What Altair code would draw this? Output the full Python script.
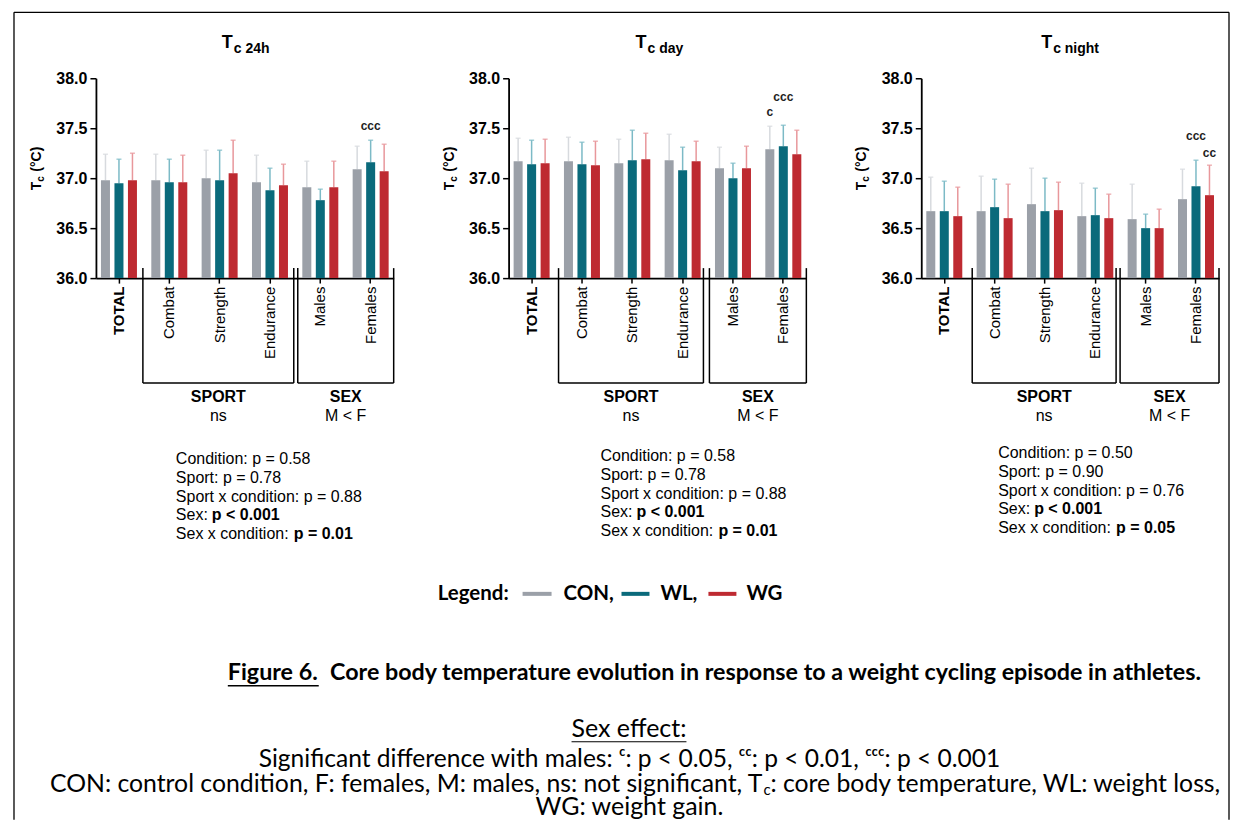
import altair as alt
import pandas as pd

# ---------------- data ----------------
CATEGORIES = ["TOTAL", "Combat", "Strength", "Endurance", "Males", "Females"]
CONDITIONS = ["CON", "WL", "WG"]
Y_TICKS = [36.0, 36.5, 37.0, 37.5, 38.0]
Y_MIN, Y_MAX = 36.0, 38.0

# Tc 24h : means and SD
H24_CON = [36.98, 36.98, 37.00, 36.96, 36.91, 37.09]
H24_WL = [36.95, 36.96, 36.98, 36.88, 36.78, 37.16]
H24_WG = [36.98, 36.96, 37.05, 36.93, 36.91, 37.07]
H24_CON_SD = [0.26, 0.26, 0.28, 0.27, 0.26, 0.23]
H24_WL_SD = [0.24, 0.23, 0.30, 0.22, 0.11, 0.22]
H24_WG_SD = [0.27, 0.27, 0.33, 0.21, 0.26, 0.27]

# Tc day
DAY_CON = [37.17, 37.17, 37.15, 37.18, 37.10, 37.29]
DAY_WL = [37.14, 37.14, 37.18, 37.08, 37.00, 37.32]
DAY_WG = [37.15, 37.13, 37.19, 37.17, 37.10, 37.24]
DAY_CON_SD = [0.23, 0.24, 0.24, 0.26, 0.21, 0.23]
DAY_WL_SD = [0.24, 0.22, 0.30, 0.23, 0.15, 0.21]
DAY_WG_SD = [0.24, 0.24, 0.26, 0.20, 0.22, 0.24]

# Tc night
NIGHT_CON = [36.67, 36.67, 36.74, 36.62, 36.59, 36.79]
NIGHT_WL = [36.67, 36.71, 36.67, 36.63, 36.50, 36.92]
NIGHT_WG = [36.62, 36.60, 36.68, 36.60, 36.50, 36.83]
NIGHT_CON_SD = [0.34, 0.35, 0.36, 0.33, 0.35, 0.30]
NIGHT_WL_SD = [0.30, 0.28, 0.33, 0.27, 0.14, 0.26]
NIGHT_WG_SD = [0.29, 0.34, 0.28, 0.24, 0.19, 0.30]

# significance annotations (category, condition, label)
ANN_24H = [("Females", "WL", "ccc")]
ANN_DAY = [("Females", "CON", "c"), ("Females", "WL", "ccc")]
ANN_NIGHT = [("Females", "WL", "ccc"), ("Females", "WG", "cc")]

STATS_24H = ["Condition: p = 0.58", "Sport: p = 0.78", "Sport x condition: p = 0.88"]
STATS_DAY = ["Condition: p = 0.58", "Sport: p = 0.78", "Sport x condition: p = 0.88"]
STATS_NIGHT = ["Condition: p = 0.50", "Sport: p = 0.90", "Sport x condition: p = 0.76"]
BOLD_24H = [("Sex:", "p < 0.001"), ("Sex x condition:", "p = 0.01")]
BOLD_DAY = [("Sex:", "p < 0.001"), ("Sex x condition:", "p = 0.01")]
BOLD_NIGHT = [("Sex:", "p < 0.001"), ("Sex x condition:", "p = 0.05")]

# ---------------- style ----------------
ARIAL = "Liberation Sans"
CALIBRI = "Lato"
BAR_COLORS = ["#9ba0a8", "#0a6a7b", "#be2a31"]
ERR_COLORS = ["#d7dade", "#7cbac6", "#e8979b"]
W, H = 298, 200
ONE = alt.Data(values=[{"k": 1}])


def hline(x1, x2, y, color="black", w=1.5):
    return alt.Chart(ONE).mark_rule(color=color, strokeWidth=w).encode(
        x=alt.value(x1), x2=alt.value(x2), y=alt.value(y))


def vline(x, y1, y2, color="black", w=1.5):
    return alt.Chart(ONE).mark_rule(color=color, strokeWidth=w).encode(
        x=alt.value(x), y=alt.value(y1), y2=alt.value(y2))


def label(x, y, s, size, weight="normal", align="left", baseline="alphabetic",
          font=ARIAL, angle=0):
    return alt.Chart(ONE).mark_text(
        text=s, fontSize=size, fontWeight=weight, align=align, baseline=baseline,
        font=font, angle=angle, color="black").encode(x=alt.value(x), y=alt.value(y))


def make_df(con, wl, wg, con_sd, wl_sd, wg_sd):
    rows = []
    for cond, means, sds in (("CON", con, con_sd), ("WL", wl, wl_sd), ("WG", wg, wg_sd)):
        for cat, m, s in zip(CATEGORIES, means, sds):
            rows.append({"category": cat, "condition": cond, "mean": m, "sd": s})
    return pd.DataFrame(rows)


X_AXIS = alt.Axis(
    title=None, labelAngle=270, labelFont=ARIAL, labelFontSize=15, labelColor="black",
    labelFontWeight={"condition": {"test": "datum.value == 'TOTAL'", "value": "bold"},
                     "value": "normal"},
    labelPadding=3, tickSize=5, tickWidth=1.5, tickColor="black",
    domainColor="black", domainWidth=1.8)
Y_AXIS = alt.Axis(
    title=None, values=Y_TICKS, format=".1f", labelFont=ARIAL, labelFontSize=16,
    labelFontWeight="bold", labelColor="black", labelPadding=3, tickSize=6,
    tickWidth=1.5, tickColor="black", domainColor="black", domainWidth=1.8, grid=False)
Y_SCALE = alt.Scale(domain=[Y_MIN, Y_MAX], nice=False, zero=False)


def enc_x():
    return alt.X("category:N", sort=CATEGORIES,
                 scale=alt.Scale(paddingInner=0.285, paddingOuter=0.1), axis=X_AXIS)


def enc_xo():
    return alt.XOffset("condition:N", sort=CONDITIONS,
                       scale=alt.Scale(paddingInner=0.333, paddingOuter=0.0))


def err_color():
    return alt.Color("condition:N", scale=alt.Scale(domain=CONDITIONS, range=ERR_COLORS),
                     legend=None)


def panel(df, sub, t_x, anns, ann_dy, stats, bold_rows, sx, sy, brk):
    base = alt.Chart(df).transform_calculate(upper="datum.mean + datum.sd")
    layers = []
    layers.append(base.mark_rule(strokeWidth=1.5).encode(
        x=enc_x(), xOffset=enc_xo(),
        y=alt.Y("mean:Q", scale=Y_SCALE, axis=Y_AXIS), y2="upper:Q", color=err_color()))
    layers.append(base.mark_tick(orient="horizontal", size=5, thickness=1.5).encode(
        x=enc_x(), xOffset=enc_xo(),
        y=alt.Y("upper:Q", scale=Y_SCALE, axis=Y_AXIS), color=err_color()))
    layers.append(base.mark_bar().encode(
        x=enc_x(), xOffset=enc_xo(),
        y=alt.Y("mean:Q", scale=Y_SCALE, axis=Y_AXIS), y2=alt.Y2Datum(Y_MIN),
        color=alt.Color("condition:N",
                        scale=alt.Scale(domain=CONDITIONS, range=BAR_COLORS), legend=None)))
    for (cat, cond, lab), dy in zip(anns, ann_dy):
        layers.append(base.transform_filter(
            (alt.datum.category == cat) & (alt.datum.condition == cond)
        ).mark_text(text=lab, dy=dy, fontSize=12, fontWeight="bold", font=ARIAL,
                    color="#222222").encode(
            x=enc_x(), xOffset=enc_xo(), y=alt.Y("upper:Q", scale=Y_SCALE, axis=Y_AXIS)))

    # panel title  T_c xxx
    layers.append(label(t_x, -30, "T", 18, "bold", "right"))
    layers.append(label(t_x + 1, -25, sub, 14, "bold", "left"))
    # y axis title  T_c (°C)
    layers.append(label(-59, 112, "T", 14, "bold", "left", "middle", angle=270))
    layers.append(label(-55, 103.5, "c", 10, "bold", "left", "middle", angle=270))
    layers.append(label(-59, 93.5, "(°C)", 14, "bold", "left", "middle", angle=270))

    # group brackets below the axis
    b0, b1, b2, b3 = brk
    top, bot = H - 10, H + 105
    for xv in (b0, b1, b2, b3):
        layers.append(vline(xv, top, bot))
    layers.append(hline(b0, b1, bot))
    layers.append(hline(b2, b3, bot))
    layers.append(label((b0 + b1) / 2, 319, "SPORT", 16, "bold", "center", "middle"))
    layers.append(label((b0 + b1) / 2, 338.5, "ns", 16, "normal", "center", "middle"))
    layers.append(label((b2 + b3) / 2, 319, "SEX", 16, "bold", "center", "middle"))
    layers.append(label((b2 + b3) / 2, 338.5, "M < F", 16, "normal", "center", "middle"))

    # statistics block
    step = 18.8
    for i, s in enumerate(stats):
        layers.append(label(sx, sy + i * step, s, 16, "normal", "left", "middle"))
    for j, ((head, val), off) in enumerate(zip(bold_rows, (36, 118))):
        yy = sy + (len(stats) + j) * step
        layers.append(label(sx, yy, head, 16, "normal", "left", "middle"))
        layers.append(label(sx + off, yy, val, 16, "bold", "left", "middle"))
    return layers


def figure_layers():
    L = []
    # outer frame
    L.append(vline(-82, -66, 742, w=1.3))
    L.append(hline(-82, 1134, -66, w=1.3))
    L.append(vline(1134, -66, 742, w=1.3))
    # legend
    L.append(label(342, 516, "Legend:", 20.5, "bold", "left", "middle", CALIBRI))
    L.append(hline(427, 456, 516, BAR_COLORS[0], 4))
    L.append(label(468, 516, "CON,", 20.5, "bold", "left", "middle", CALIBRI))
    L.append(hline(526, 554, 516, BAR_COLORS[1], 4))
    L.append(label(565, 516, "WL,", 20.5, "bold", "left", "middle", CALIBRI))
    L.append(hline(613, 641, 516, BAR_COLORS[2], 4))
    L.append(label(651, 516, "WG", 20.5, "bold", "left", "middle", CALIBRI))
    # figure caption
    L.append(label(132, 602, "Figure 6.", 23.3, "bold", "left", "alphabetic", CALIBRI))
    L.append(hline(132, 223, 608, "black", 1.5))
    L.append(label(1106, 602,
                   "Core body temperature evolution in response to a weight cycling episode in athletes.",
                   23.3, "bold", "right", "alphabetic", CALIBRI))
    # footnote
    FS = 25.0
    L.append(label(533.5, 659, "Sex effect:", FS, "normal", "center", "alphabetic", CALIBRI))
    L.append(hline(476, 591, 664, "black", 1.2))
    L.append(label(534, 689,
                   "Significant difference with males: \u1d9c: p < 0.05, \u1d9c\u1d9c: p < 0.01, "
                   "\u1d9c\u1d9c\u1d9c: p < 0.001",
                   24.6, "normal", "center", "alphabetic", CALIBRI))
    L.append(label(667, 714, "CON: control condition, F: females, M: males, ns: not significant, T",
                   24.8, "normal", "right", "alphabetic", CALIBRI))
    L.append(label(668, 717, "c", 15, "normal", "left", "alphabetic", CALIBRI))
    L.append(label(675, 714, ": core body temperature, WL: weight loss,", 24.8, "normal", "left",
                   "alphabetic", CALIBRI))
    L.append(label(534, 737, "WG: weight gain.", FS, "normal", "center", "alphabetic", CALIBRI))
    return L


df24 = make_df(H24_CON, H24_WL, H24_WG, H24_CON_SD, H24_WL_SD, H24_WG_SD)
dfday = make_df(DAY_CON, DAY_WL, DAY_WG, DAY_CON_SD, DAY_WL_SD, DAY_WG_SD)
dfnight = make_df(NIGHT_CON, NIGHT_WL, NIGHT_WG, NIGHT_CON_SD, NIGHT_WL_SD, NIGHT_WG_SD)

p1_layers = panel(df24, "c 24h", 137, ANN_24H, [-14], STATS_24H, BOLD_24H, 80, 381,
                  (47, 198, 202, 298)) + figure_layers()
p2_layers = panel(dfday, "c day", 138, ANN_DAY, [-14, -28], STATS_DAY, BOLD_DAY, 92, 378,
                  (50, 195, 201, 298))
p3_layers = panel(dfnight, "c night", 131, ANN_NIGHT, [-24, -12], STATS_NIGHT, BOLD_NIGHT,
                  77, 375, (51, 195, 199, 298))

p1 = alt.layer(*p1_layers).properties(width=W, height=H).resolve_scale(color="independent")
p2 = alt.layer(*p2_layers).properties(width=W, height=H).resolve_scale(color="independent")
p3 = alt.layer(*p3_layers).properties(width=W, height=H).resolve_scale(color="independent")

chart = alt.hconcat(p1, p2, p3, spacing=115, bounds="flush").configure_view(
    stroke=None).properties(padding={"left": 5, "top": 3, "right": 0, "bottom": 0})

chart.save("out.html", embed_options={"renderer": "svg", "actions": False})
